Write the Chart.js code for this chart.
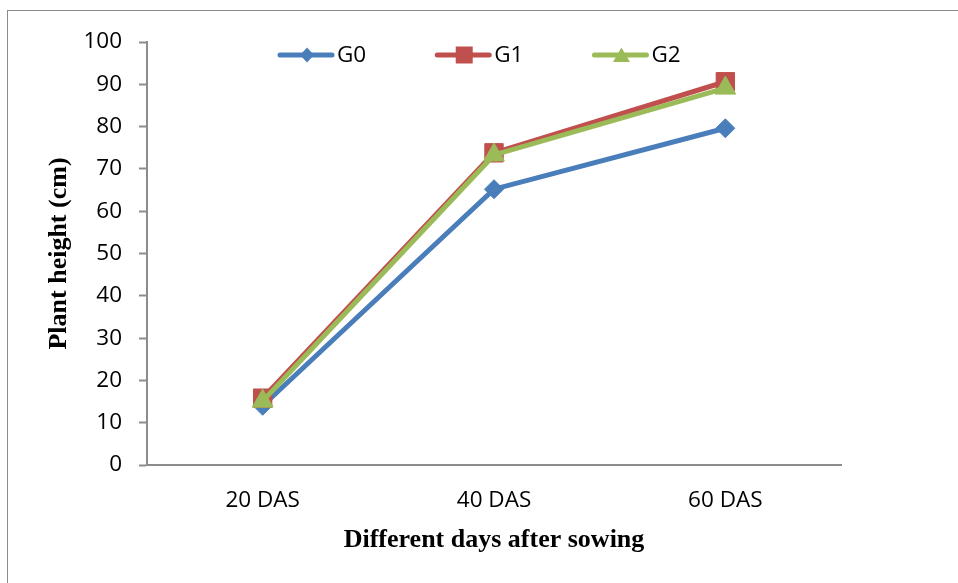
<!DOCTYPE html>
<html lang="en">
<head>
    <meta charset="UTF-8">
    <title>Plant height</title>
    <script src="https://cdn.jsdelivr.net/npm/chart.js"></script>
    <style>
        html, body {
            margin: 0;
            padding: 0;
            background: #fff;
            overflow: hidden;
        }
        .frame {
            position: absolute;
            left: 7px;
            top: 10px;
            width: 980px;
            height: 620px;
            border: 1.5px solid #8c8c8c;
        }
        .chart-box {
            position: absolute;
            left: 0;
            top: 0;
            width: 958px;
            height: 583px;
        }
    </style>
</head>
<body>
<div class="frame"></div>
<div class="chart-box">
    <canvas id="chart"></canvas>
</div>

<script>
    // Данные графика
    const categories = ['20 DAS', '40 DAS', '60 DAS'];
    const seriesNames = ['G0', 'G1', 'G2'];
    const g0 = [14.0, 65.2, 79.6];
    const g1 = [15.8, 73.8, 90.6];
    const g2 = [15.1, 73.3, 89.1];
    const yTicks = [0, 10, 20, 30, 40, 50, 60, 70, 80, 90, 100];

    const colors = ['#4A7EBB', '#C0504D', '#9BBB59'];
    const markers = ['rectRot', 'rect', 'triangle'];
    const markerSizes = [9.5, 13, 12];

    const tickFont = {family: '"Open Sans", sans-serif', size: 22.5};
    const titleFont = {family: '"Liberation Serif", "Times New Roman", serif', size: 26, weight: 'bold'};

    // Легенда рисуется внутри области графика, как в Excel
    const insideLegend = {
        id: 'insideLegend',
        afterDraw(chart) {
            const ctx = chart.ctx;
            const area = chart.chartArea;
            const y = 55;
            let x = area.left + 131;
            ctx.save();
            ctx.font = tickFont.size + 'px ' + tickFont.family;
            ctx.textBaseline = 'middle';
            ctx.textAlign = 'left';
            seriesNames.forEach((name, i) => {
                const c = colors[i];
                ctx.strokeStyle = c;
                ctx.lineWidth = 5;
                ctx.lineCap = 'round';
                ctx.beginPath();
                ctx.moveTo(x + 2, y);
                ctx.lineTo(x + 54, y);
                ctx.stroke();
                const cx = x + 29;
                ctx.fillStyle = c;
                ctx.beginPath();
                if (markers[i] === 'rectRot') {
                    ctx.moveTo(cx, y - 7.5);
                    ctx.lineTo(cx + 7, y);
                    ctx.lineTo(cx, y + 7.5);
                    ctx.lineTo(cx - 7, y);
                } else if (markers[i] === 'rect') {
                    ctx.rect(cx - 8.5, y - 8.5, 17, 17);
                } else {
                    ctx.moveTo(cx, y - 7.5);
                    ctx.lineTo(cx + 8.5, y + 7);
                    ctx.lineTo(cx - 8.5, y + 7);
                }
                ctx.closePath();
                ctx.fill();
                ctx.fillStyle = '#000';
                ctx.fillText(name, x + 59, y + 1);
                x += 59 + ctx.measureText(name).width + 69;
            });
            ctx.restore();
        }
    };

    const seriesData = [g0, g1, g2];
    const datasets = seriesNames.map((name, i) => ({
        label: name,
        data: seriesData[i],
        borderColor: colors[i],
        backgroundColor: colors[i],
        borderWidth: 5,
        pointStyle: markers[i],
        pointRadius: markerSizes[i],
        pointHoverRadius: markerSizes[i],
        pointBackgroundColor: colors[i],
        pointBorderColor: colors[i],
        pointBorderWidth: 1,
        tension: 0,
        fill: false,
        order: 3 - i
    }));

    new Chart(document.getElementById('chart').getContext('2d'), {
        type: 'line',
        data: {
            labels: categories,
            datasets: datasets
        },
        options: {
            responsive: true,
            maintainAspectRatio: false,
            animation: false,
            layout: {
                padding: {left: 0, top: 42, right: 117, bottom: 0}
            },
            plugins: {
                legend: {display: false},
                tooltip: {enabled: false}
            },
            scales: {
                x: {
                    offset: true,
                    grid: {display: false, drawTicks: false},
                    border: {color: '#8c8c8c', width: 2},
                    ticks: {color: '#000', font: tickFont, padding: 22},
                    title: {
                        display: true,
                        text: 'Different days after sowing',
                        color: '#000',
                        font: titleFont,
                        padding: {top: 0, bottom: 27}
                    },
                    afterFit: (scale) => { scale.height = 118; }
                },
                y: {
                    min: 0,
                    max: 100,
                    afterBuildTicks: (scale) => {
                        scale.ticks = yTicks.map(v => ({value: v}));
                    },
                    grid: {
                        drawOnChartArea: false,
                        drawTicks: true,
                        tickLength: 8,
                        tickWidth: 2,
                        color: '#8c8c8c'
                    },
                    border: {color: '#8c8c8c', width: 2},
                    ticks: {color: '#000', font: tickFont, padding: 17},
                    title: {
                        display: true,
                        text: 'Plant height (cm)',
                        color: '#000',
                        font: titleFont,
                        padding: {top: 44, bottom: 0}
                    },
                    afterFit: (scale) => { scale.width = 147; }
                }
            }
        },
        plugins: [insideLegend]
    });
</script>
</body>
</html>
